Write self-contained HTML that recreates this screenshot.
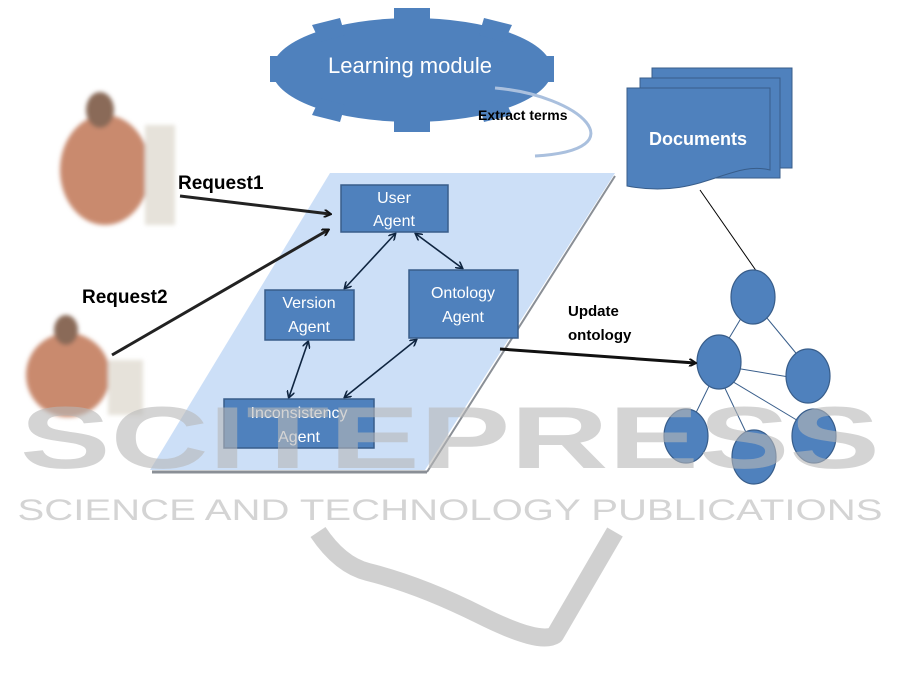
<!DOCTYPE html>
<html><head><style>
html,body{margin:0;padding:0;background:#fff;}
svg{display:block;font-family:"Liberation Sans",sans-serif;}
</style></head><body>
<svg width="901" height="692" viewBox="0 0 901 692" xmlns="http://www.w3.org/2000/svg">
<defs>
<marker id="ah" markerWidth="8" markerHeight="8" refX="6" refY="4" orient="auto" markerUnits="userSpaceOnUse"><path d="M0,0 L7,4 L0,8" fill="none" stroke="#111" stroke-width="2"/></marker>
<marker id="ahs" markerWidth="8" markerHeight="8" refX="6" refY="4" orient="auto-start-reverse" markerUnits="userSpaceOnUse"><path d="M0,0 L7,4 L0,8" fill="none" stroke="#0f2540" stroke-width="1.6"/></marker>
<filter id="bl"><feGaussianBlur stdDeviation="2"/></filter>
</defs>

<!-- platform -->
<polygon points="330,173 615,173 425,470 150,470" fill="#c6dcf6" opacity="0.9"/>
<line x1="152" y1="472" x2="427" y2="472" stroke="#8a8f96" stroke-width="3"/>
<line x1="427" y1="472" x2="615" y2="176" stroke="#8a8f96" stroke-width="2"/>

<!-- gear -->
<g fill="#4f81bd">
<ellipse cx="412" cy="70" rx="140" ry="52"/>
<rect x="394" y="8" width="36" height="20"/>
<rect x="394" y="112" width="36" height="20"/>
<rect x="270" y="56" width="20" height="26"/>
<rect x="534" y="56" width="20" height="26"/>
<polygon points="312,25 340,18 345,35 320,42"/>
<polygon points="512,25 484,18 479,35 504,42"/>
<polygon points="312,115 340,122 345,105 320,98"/>
<polygon points="512,115 484,122 479,105 504,98"/>
</g>
<text x="410" y="73" font-size="22" fill="#fff" text-anchor="middle">Learning module</text>

<!-- extract curve -->
<path d="M495,88 C580,95 640,150 535,156" fill="none" stroke="#aac0de" stroke-width="3"/>
<text x="478" y="120" font-size="14" font-weight="bold" fill="#000">Extract terms</text>

<!-- documents -->
<g fill="#4f81bd" stroke="#385d8a" stroke-width="1">
<rect x="652" y="68" width="140" height="100"/>
<rect x="640" y="78" width="140" height="100"/>
<path d="M627,88 L770,88 L770,170 C730,160 700,200 627,186 Z"/>
</g>
<text x="698" y="145" font-size="18" font-weight="bold" fill="#fff" text-anchor="middle">Documents</text>

<!-- tree -->
<g stroke="#385d8a" stroke-width="1" fill="none">
<line x1="700" y1="190" x2="757" y2="272" stroke="#000"/>
<line x1="752" y1="300" x2="722" y2="350"/>
<line x1="752" y1="300" x2="800" y2="358"/>
<line x1="735" y1="368" x2="795" y2="378"/>
<line x1="712" y1="380" x2="690" y2="425"/>
<line x1="722" y1="382" x2="752" y2="445"/>
<line x1="730" y1="380" x2="805" y2="425"/>
</g>
<g fill="#4f81bd" stroke="#385d8a" stroke-width="1.2">
<ellipse cx="753" cy="297" rx="22" ry="27"/>
<ellipse cx="719" cy="362" rx="22" ry="27"/>
<ellipse cx="808" cy="376" rx="22" ry="27"/>
<ellipse cx="686" cy="436" rx="22" ry="27"/>
<ellipse cx="754" cy="457" rx="22" ry="27"/>
<ellipse cx="814" cy="436" rx="22" ry="27"/>
</g>

<!-- update ontology -->
<text x="568" y="316" font-size="15" font-weight="bold">Update</text>
<text x="568" y="340" font-size="15" font-weight="bold">ontology</text>
<line x1="500" y1="349" x2="695" y2="363" stroke="#111" stroke-width="3" marker-end="url(#ah)"/>

<!-- people -->
<g filter="url(#bl)">
<ellipse cx="105" cy="170" rx="45" ry="55" fill="#c98a6e"/>
<ellipse cx="100" cy="110" rx="14" ry="18" fill="#8a6a58"/>
<rect x="145" y="125" width="30" height="100" fill="#e6e2da"/>
<ellipse cx="68" cy="375" rx="42" ry="42" fill="#c98a6e"/>
<ellipse cx="66" cy="330" rx="12" ry="15" fill="#8a6a58"/>
<rect x="108" y="360" width="35" height="55" fill="#e6e2da"/>
</g>

<!-- requests -->
<text x="178" y="189" font-size="19" font-weight="bold">Request1</text>
<text x="82" y="303" font-size="19" font-weight="bold">Request2</text>
<line x1="180" y1="196" x2="330" y2="214" stroke="#222" stroke-width="3" marker-end="url(#ah)"/>
<line x1="112" y1="355" x2="328" y2="230" stroke="#222" stroke-width="3" marker-end="url(#ah)"/>

<!-- agent connections -->
<g stroke="#0f2540" stroke-width="1.6" marker-start="url(#ahs)" marker-end="url(#ahs)">
<line x1="395" y1="234" x2="345" y2="288"/>
<line x1="416" y1="234" x2="462" y2="268"/>
<line x1="308" y1="342" x2="289" y2="397"/>
<line x1="416" y1="340" x2="345" y2="397"/>
</g>

<!-- boxes -->
<g fill="#4f81bd" stroke="#385d8a" stroke-width="1.5">
<rect x="341" y="185" width="107" height="47"/>
<rect x="265" y="290" width="89" height="50"/>
<rect x="409" y="270" width="109" height="68"/>
<rect x="224" y="399" width="150" height="49"/>
</g>
<g fill="#fff" font-size="16" text-anchor="middle">
<text x="394" y="203">User</text><text x="394" y="226">Agent</text>
<text x="309" y="308">Version</text><text x="309" y="332">Agent</text>
<text x="463" y="298">Ontology</text><text x="463" y="322">Agent</text>
<text x="299" y="418">Inconsistency</text><text x="299" y="442">Agent</text>
</g>

<!-- watermark (semi-transparent overlay) -->
<g fill="#b8b8b8" opacity="0.6">
<text x="450" y="468" font-size="88" font-weight="bold" text-anchor="middle" textLength="860" lengthAdjust="spacingAndGlyphs">SCITEPRESS</text>
<text x="450" y="520" font-size="30" text-anchor="middle" textLength="865" lengthAdjust="spacingAndGlyphs">SCIENCE AND TECHNOLOGY PUBLICATIONS</text>
</g>
<g fill="none" stroke="#c8c8c8" stroke-width="18" opacity="0.85" stroke-linejoin="round">
<path d="M318,532 Q340,565 368,572 Q420,585 480,615 Q540,645 555,635 L615,532"/>
</g>
</svg>
</body></html>
